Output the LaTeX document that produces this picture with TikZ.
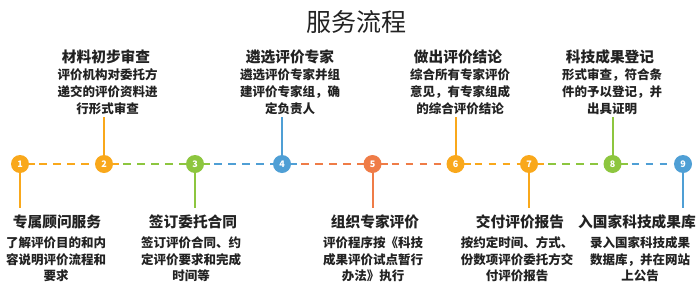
\documentclass[tikz,border=0pt]{standalone}
\usepackage{fontspec}
\setmainfont{Noto Sans CJK SC}
\usetikzlibrary{positioning}

\definecolor{sorange}{HTML}{F9A81B}
\definecolor{sgreen}{HTML}{8DC63F}
\definecolor{sblue}{HTML}{4F9FD5}
\definecolor{scoral}{HTML}{EF7C47}
\definecolor{stext}{HTML}{222222}

\begin{document}
\begin{tikzpicture}[x=1pt, y=-1pt,
  dot/.style={circle, fill=#1, minimum size=18pt, inner sep=0pt,
    text=white, font=\bfseries\fontsize{9}{9}\selectfont},
  link/.style={#1, line width=2pt, dash pattern=on 7.5pt off 6.5pt},
  stub/.style={#1, line width=2pt},
  head/.style={text=stext, inner sep=0pt, font=\bfseries\fontsize{14.7}{17}\selectfont},
  desc/.style={text=stext, inner sep=0pt, align=center,
    font=\bfseries\fontsize{12.5}{16.7}\selectfont}]
  \useasboundingbox (0,0) rectangle (700,300);

  \node[font=\fontsize{25}{25}\selectfont, text=stext] (title) at (356,22) {服务流程};

  % steps on the time line
  \coordinate (c1) at (20,164);   \coordinate (c2) at (104,164);
  \coordinate (c3) at (195,164);  \coordinate (c4) at (282,164);
  \coordinate (c5) at (372.5,164);\coordinate (c6) at (455.5,164);
  \coordinate (c7) at (529,164);  \coordinate (c8) at (612.5,164);
  \coordinate (c9) at (683,164);

  \draw[stub=sorange] (c1) -- +(15,0);
  \draw[stub=sorange] (c2) -- +(15,0);
  \draw[stub=sgreen]  (c3) -- +(15,0);
  \draw[stub=sblue]   (c4) -- +(15,0);
  \draw[stub=scoral]  (c5) -- +(15,0);
  \draw[stub=sorange] (c6) -- +(15,0);
  \draw[stub=sorange] (c7) -- +(15,0);
  \draw[stub=sgreen]  (c8) -- +(15,0);

  \draw[link=sorange] ([xshift=19pt]c1) -- ([xshift=-9pt]c2);
  \draw[link=sgreen]  ([xshift=19pt]c2) -- ([xshift=-9pt]c3);
  \draw[link=sblue]   ([xshift=19pt]c3) -- ([xshift=-9pt]c4);
  \draw[link=scoral]  ([xshift=19pt]c4) -- ([xshift=-9pt]c5);
  \draw[link=scoral]  ([xshift=19pt]c5) -- ([xshift=-9pt]c6);
  \draw[link=sorange] ([xshift=19pt]c6) -- ([xshift=-9pt]c7);
  \draw[link=sgreen]  ([xshift=19pt]c7) -- ([xshift=-9pt]c8);
  \draw[link=sblue]   ([xshift=19pt]c8) -- ([xshift=-9pt]c9);

  % stems up and down
  \coordinate (e1) at (20,208);   \coordinate (e2) at (104,117);
  \coordinate (e3) at (195,208);  \coordinate (e4) at (282,117);
  \coordinate (e5) at (372.5,208);\coordinate (e6) at (455.5,117);
  \coordinate (e7) at (529,208);  \coordinate (e8) at (612.5,117);
  \coordinate (e9) at (683,208);
  \draw[stub=sorange] (c1) -- (e1);
  \draw[stub=sorange] (c2) -- (e2);
  \draw[stub=sgreen]  (c3) -- (e3);
  \draw[stub=sblue]   (c4) -- (e4);
  \draw[stub=scoral]  (c5) -- (e5);
  \draw[stub=sorange] (c6) -- (e6);
  \draw[stub=sorange] (c7) -- (e7);
  \draw[stub=sgreen]  (c8) -- (e8);
  \draw[stub=sblue]   (c9) -- (e9);

  \node[dot=sorange] (n1) at (c1) {1};
  \node[dot=sorange] (n2) at (c2) {2};
  \node[dot=sgreen]  (n3) at (c3) {3};
  \node[dot=sblue]   (n4) at (c4) {4};
  \node[dot=scoral]  (n5) at (c5) {5};
  \node[dot=sorange] (n6) at (c6) {6};
  \node[dot=sorange] (n7) at (c7) {7};
  \node[dot=sgreen]  (n8) at (c8) {8};
  \node[dot=sblue]   (n9) at (c9) {9};

  % labels above
  \node[head] (h2) at (106,57) {材料初步审查};
  \node[desc] (d2) at (107.5,91.7) {评价机构对委托方\\递交的评价资料进\\行形式审查};
  \node[head] (h4) at (290,57) {遴选评价专家};
  \node[desc] (d4) at (290,91.7) {遴选评价专家并组\\建评价专家组，确\\定负责人};
  \node[head] (h6) at (458,57) {做出评价结论};
  \node[desc] (d6) at (460,91.7) {综合所有专家评价\\意见，有专家组成\\的综合评价结论};
  \node[head] (h8) at (610,57) {科技成果登记};
  \node[desc] (d8) at (612,91.7) {形式审查，符合条\\件的予以登记，并\\出具证明};

  % labels below
  \node[head] (h1) at (57,222) {专属顾问服务};
  \node[desc] (d1) at (56,259.3) {了解评价目的和内\\容说明评价流程和\\要求};
  \node[head] (h3) at (193,222) {签订委托合同};
  \node[desc] (d3) at (191,259.3) {签订评价合同、约\\定评价要求和完成\\时间等};
  \node[head] (h5) at (375,222) {组织专家评价};
  \node[desc] (d5) at (373,259.3) {评价程序按《科技\\成果评价试点暂行\\办法》执行};
  \node[head] (h7) at (520,222) {交付评价报告};
  \node[desc] (d7) at (517,259.3) {按约定时间、方式、\\份数项评价委托方交\\付评价报告};
  \node[head] (h9) at (637,222) {入国家科技成果库};
  \node[desc] (d9) at (640,259.3) {录入国家科技成果\\数据库，并在网站\\上公告};
\end{tikzpicture}
\end{document}
